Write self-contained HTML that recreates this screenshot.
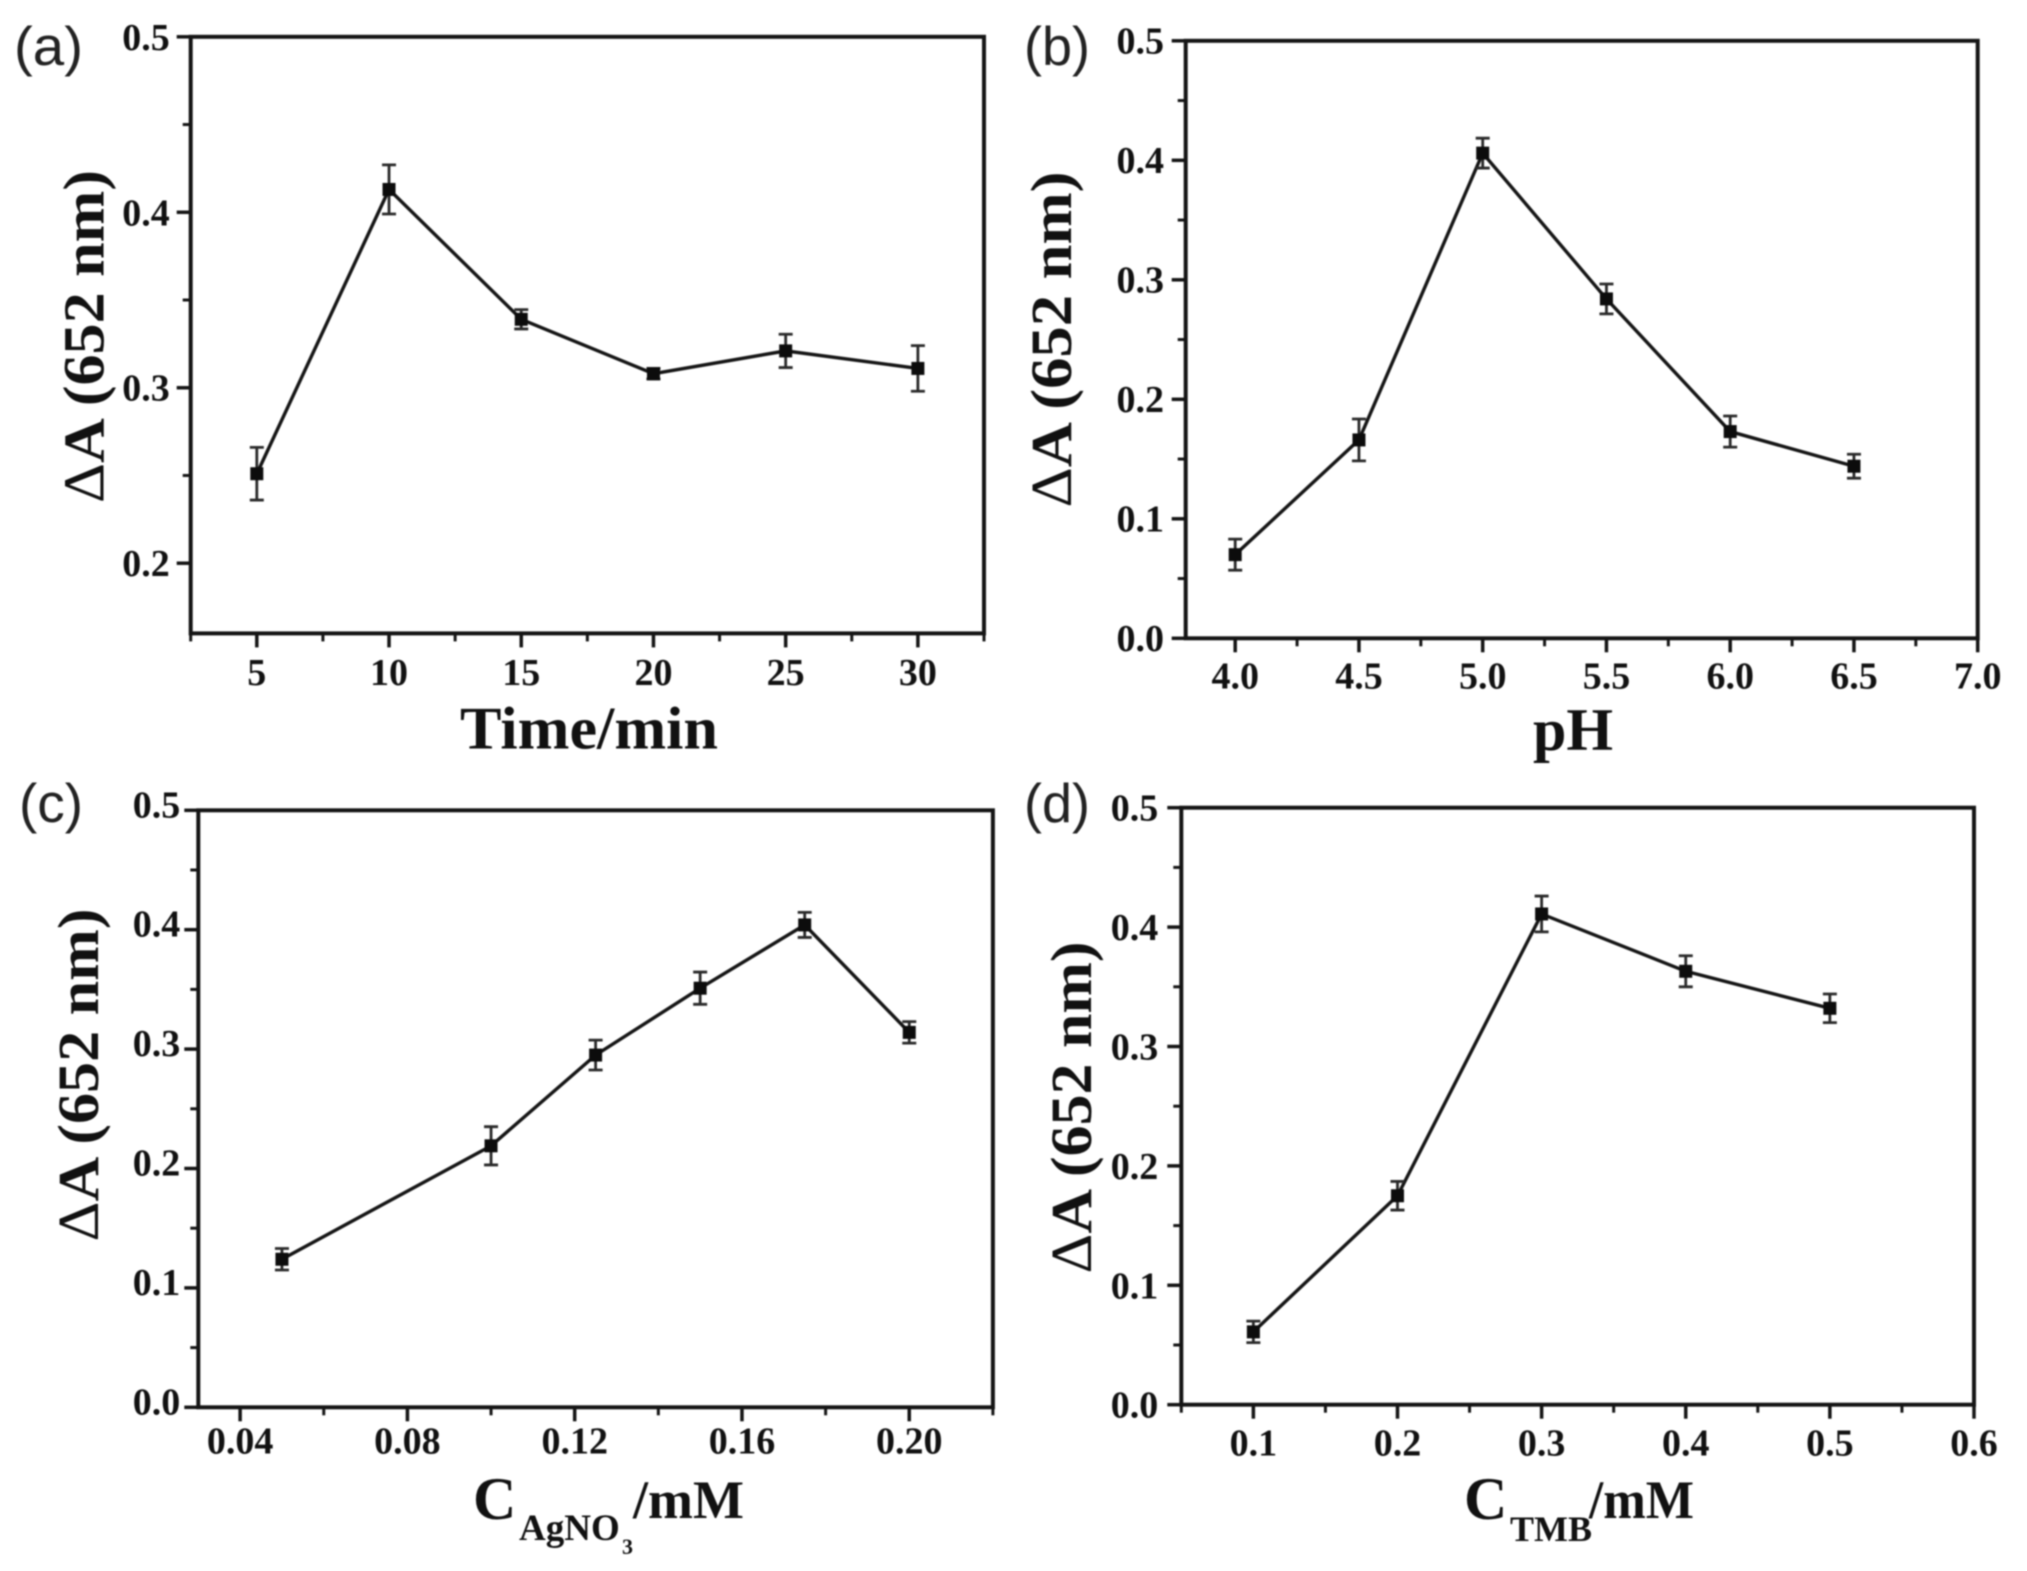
<!DOCTYPE html>
<html lang="en">
<head>
<meta charset="utf-8">
<title>Absorbance optimisation charts</title>
<style>
html,body{margin:0;padding:0;background:#fff;}
svg{display:block;filter:blur(0.8px);}
text{font-family:"Liberation Serif","DejaVu Serif",serif;font-weight:bold;fill:#111;}
.panel-letter{font-family:"Liberation Sans","DejaVu Sans",sans-serif;font-weight:normal;font-size:55px;fill:#222;}
.axis-title{font-size:60px;}
.y-title{font-size:58px;}
.delta{font-weight:normal;}
.conc{font-size:60px;}
.per{font-size:54px;}
.sub{font-size:37px;}
.subsub{font-size:22px;}
</style>
</head>
<body>
<svg id="figure" xmlns="http://www.w3.org/2000/svg" width="2027" height="1571" viewBox="0 0 2027 1571">
  <rect width="2027" height="1571" fill="#fff"/>
  <g id="panel-a">
    <text class="panel-letter" x="14" y="65" textLength="69" lengthAdjust="spacingAndGlyphs">(a)</text>
    <text class="y-title" transform="translate(103.7,336.5) rotate(-90)" text-anchor="middle" textLength="333" lengthAdjust="spacingAndGlyphs"><tspan class="delta">Δ</tspan>A (652 nm)</text>
    <text class="axis-title" x="589" y="748.7" text-anchor="middle" textLength="258" lengthAdjust="spacingAndGlyphs">Time/min</text>
  </g>
  <g id="panel-b">
    <text class="panel-letter" x="1024" y="65" textLength="66" lengthAdjust="spacingAndGlyphs">(b)</text>
    <text class="y-title" transform="translate(1071,339.5) rotate(-90)" text-anchor="middle" textLength="336" lengthAdjust="spacingAndGlyphs"><tspan class="delta">Δ</tspan>A (652 nm)</text>
    <text class="axis-title" x="1573" y="750" text-anchor="middle">pH</text>
  </g>
  <g id="panel-c">
    <text class="panel-letter" x="19" y="822" textLength="64" lengthAdjust="spacingAndGlyphs">(c)</text>
    <text class="y-title" transform="translate(98,1075) rotate(-90)" text-anchor="middle" textLength="333" lengthAdjust="spacingAndGlyphs"><tspan class="delta">Δ</tspan>A (652 nm)</text>
    <text><tspan class="conc" x="473" y="1519">C</tspan><tspan class="sub" x="519" y="1540">AgNO</tspan><tspan class="subsub" x="622" y="1554">3</tspan><tspan class="per" x="633" y="1518">/mM</tspan></text>
  </g>
  <g id="panel-d">
    <text class="panel-letter" x="1024" y="822" textLength="66" lengthAdjust="spacingAndGlyphs">(d)</text>
    <text class="y-title" transform="translate(1091,1107.5) rotate(-90)" text-anchor="middle" textLength="332" lengthAdjust="spacingAndGlyphs"><tspan class="delta">Δ</tspan>A (652 nm)</text>
    <text><tspan class="conc" x="1464" y="1519">C</tspan><tspan class="sub" x="1510" y="1541" style="font-size:36px">TMB</tspan><tspan class="per" x="1589" y="1518" textLength="105" lengthAdjust="spacingAndGlyphs">/mM</tspan></text>
  </g>
</svg>
<script>
// Panel (a)
const timeCategories = [5, 10, 15, 20, 25, 30];
const timeValues = [0.251, 0.413, 0.339, 0.308, 0.321, 0.311];
const timeErrors = [0.015, 0.014, 0.0055, 0.003, 0.0095, 0.013];
const timeXTicks = ["5", "10", "15", "20", "25", "30"];
const timeXMinor = [2.5, 7.5, 12.5, 17.5, 22.5, 27.5, 32.5];
const timeYTicks = ["0.2", "0.3", "0.4", "0.5"];
const timeYMinor = [0.25, 0.35, 0.45];
// Panel (b)
const phCategories = [4.0, 4.5, 5.0, 5.5, 6.0, 6.5];
const phValues = [0.07, 0.166, 0.406, 0.284, 0.173, 0.144];
const phErrors = [0.013, 0.0175, 0.0125, 0.0125, 0.013, 0.01];
const phXTicks = ["4.0", "4.5", "5.0", "5.5", "6.0", "6.5", "7.0"];
const phXMinor = [4.25, 4.75, 5.25, 5.75, 6.25, 6.75];
const phYTicks = ["0.0", "0.1", "0.2", "0.3", "0.4", "0.5"];
const phYMinor = [0.05, 0.15, 0.25, 0.35, 0.45];
// Panel (c)
const silverCategories = [0.05, 0.1, 0.125, 0.15, 0.175, 0.2];
const silverValues = [0.124, 0.219, 0.295, 0.351, 0.404, 0.314];
const silverErrors = [0.009, 0.016, 0.0125, 0.0135, 0.0105, 0.009];
const silverXTicks = ["0.04", "0.08", "0.12", "0.16", "0.20"];
const silverXMinor = [0.06, 0.1, 0.14, 0.18, 0.22];
const silverYTicks = ["0.0", "0.1", "0.2", "0.3", "0.4", "0.5"];
const silverYMinor = [0.05, 0.15, 0.25, 0.35, 0.45];
// Panel (d)
const tmbCategories = [0.1, 0.2, 0.3, 0.4, 0.5];
const tmbValues = [0.061, 0.175, 0.411, 0.363, 0.332];
const tmbErrors = [0.009, 0.012, 0.015, 0.013, 0.012];
const tmbXTicks = ["0.1", "0.2", "0.3", "0.4", "0.5", "0.6"];
const tmbXMinor = [0.05, 0.15, 0.25, 0.35, 0.45, 0.55];
const tmbYTicks = ["0.0", "0.1", "0.2", "0.3", "0.4", "0.5"];
const tmbYMinor = [0.05, 0.15, 0.25, 0.35, 0.45];

const NS = "http://www.w3.org/2000/svg";
const INK = "#151515";

function el(parent, tag, props) {
  const node = document.createElementNS(NS, tag);
  for (const key in props) node.setAttribute(key, props[key]);
  parent.appendChild(node);
  return node;
}

function drawPanel(id, box, xDomain, yDomain, cats, vals, errs, xTicks, xMinor, yTicks, yMinor, layout) {
  const group = document.getElementById(id);
  const sx = v => box.left + (v - xDomain[0]) / (xDomain[1] - xDomain[0]) * (box.right - box.left);
  const sy = v => box.bottom - (v - yDomain[0]) / (yDomain[1] - yDomain[0]) * (box.bottom - box.top);

  const frame = el(group, "rect", {x: box.left, y: box.top, width: box.right - box.left, height: box.bottom - box.top, fill: "none", stroke: INK, "stroke-width": 4});
  
  

  xTicks.forEach(label => {
    const v = parseFloat(label);
    const tick = el(group, "line", {x1: sx(v), x2: sx(v), y1: box.bottom, y2: box.bottom + 14, stroke: INK, "stroke-width": 3.5});
    
    
    const text = el(group, "text", {x: sx(v), y: box.bottom + layout.xGap, "text-anchor": "middle", "font-size": 38});
    
    
    text.textContent = label;
  });
  xMinor.forEach(v => {
    const tick = el(group, "line", {x1: sx(v), x2: sx(v), y1: box.bottom, y2: box.bottom + 8, stroke: INK, "stroke-width": 3});
    
    
  });
  yTicks.forEach(label => {
    const v = parseFloat(label);
    const tick = el(group, "line", {x1: box.left, x2: box.left - 14, y1: sy(v), y2: sy(v), stroke: INK, "stroke-width": 3.5});
    
    
    const text = el(group, "text", {x: box.left - layout.yGap, y: sy(v) + layout.yDrop, "text-anchor": "end", "font-size": 38});
    
    
    text.textContent = label;
  });
  yMinor.forEach(v => {
    const tick = el(group, "line", {x1: box.left, x2: box.left - 8, y1: sy(v), y2: sy(v), stroke: INK, "stroke-width": 3});
    
    
  });

  const line = el(group, "polyline", {
    points: cats.map((c, i) => sx(c) + "," + sy(vals[i])).join(" "),
    fill: "none", stroke: INK, "stroke-width": 3.4, "stroke-linejoin": "miter"
  });
  
  

  cats.forEach((c, i) => {
    const x = sx(c), top = sy(vals[i] + errs[i]), bot = sy(vals[i] - errs[i]);
    const err = el(group, "path", {
      d: "M" + (x - 7) + " " + top + "H" + (x + 7) + "M" + x + " " + top + "V" + bot + "M" + (x - 7) + " " + bot + "H" + (x + 7),
      fill: "none", stroke: "#2a2a2a", "stroke-width": 2.8
    });
    
    
    const marker = el(group, "rect", {x: x - 6.5, y: sy(vals[i]) - 6.5, width: 13, height: 13, fill: "#0c0c0c"});
    
    
  });
}

drawPanel("panel-a", {left: 190.7, right: 984, top: 36.8, bottom: 633.4}, [2.5, 32.5], [0.16, 0.5],
  timeCategories, timeValues, timeErrors, timeXTicks, timeXMinor, timeYTicks, timeYMinor, {xGap: 51.5, yGap: 21, yDrop: 13});
drawPanel("panel-b", {left: 1185.7, right: 1977.7, top: 40.8, bottom: 638.3}, [3.8, 7.0], [0, 0.5],
  phCategories, phValues, phErrors, phXTicks, phXMinor, phYTicks, phYMinor, {xGap: 50, yGap: 21.7, yDrop: 12.5});
drawPanel("panel-c", {left: 198.3, right: 992.9, top: 810.3, bottom: 1407.3}, [0.03, 0.22], [0, 0.5],
  silverCategories, silverValues, silverErrors, silverXTicks, silverXMinor, silverYTicks, silverYMinor, {xGap: 46, yGap: 18, yDrop: 7});
drawPanel("panel-d", {left: 1181.3, right: 1974, top: 807.7, bottom: 1404.7}, [0.05, 0.6], [0, 0.5],
  tmbCategories, tmbValues, tmbErrors, tmbXTicks, tmbXMinor, tmbYTicks, tmbYMinor, {xGap: 51, yGap: 23, yDrop: 13});
</script>
</body>
</html>
